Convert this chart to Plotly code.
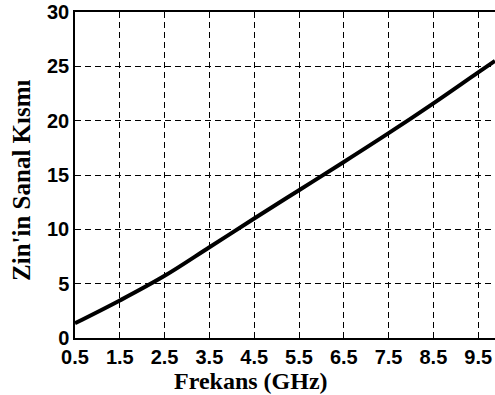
import plotly.graph_objects as go

freq = [0.5, 1.5, 2.5, 3.5, 4.5, 5.5, 6.5, 7.5, 8.5, 9.5, 9.875]
zin_imag = [1.35, 3.45, 5.72, 8.35, 11.0, 13.6, 16.2, 18.85, 21.6, 24.45, 25.5]
x_ticks = [0.5, 1.5, 2.5, 3.5, 4.5, 5.5, 6.5, 7.5, 8.5, 9.5]
y_ticks = [0, 5, 10, 15, 20, 25, 30]
x_title = "Frekans (GHz)"
y_title = "Zin'in Sanal Kısmı"

fig = go.Figure()
fig.add_trace(go.Scatter(x=freq, y=zin_imag, mode="lines",
                         line=dict(color="black", width=4, shape="spline"),
                         showlegend=False, hoverinfo="skip"))

tick_font = dict(family="Liberation Sans, Arial", size=20, color="black", weight="bold")
title_font = dict(family="Liberation Serif, Times New Roman", size=24, color="black", weight="bold")

fig.update_layout(
    width=495, height=395,
    margin=dict(l=75, r=0, t=12, b=57, autoexpand=False),
    paper_bgcolor="white", plot_bgcolor="white",
    xaxis=dict(range=[0.5, 9.875], tickvals=x_ticks, ticktext=[str(v) for v in x_ticks],
               showgrid=True, gridcolor="black", gridwidth=1, griddash="6px,4px",
               showline=True, linecolor="black", linewidth=1.5, mirror=True,
               ticks="", tickfont=tick_font, zeroline=False, automargin=False,
               ticklabeloverflow="allow"),
    yaxis=dict(range=[0, 30], tickvals=y_ticks,
               showgrid=True, gridcolor="black", gridwidth=1, griddash="6px,4px",
               showline=True, linecolor="black", linewidth=1.5, mirror=False,
               ticks="", tickfont=tick_font, zeroline=False, automargin=False,
               ticklabeloverflow="allow"),
    annotations=[
        dict(text=x_title, xref="paper", yref="paper", x=0.42, y=-0.132,
             xanchor="center", yanchor="middle", showarrow=False, font=title_font),
        dict(text=y_title, xref="paper", yref="paper", x=-0.126, y=0.485,
             xanchor="center", yanchor="middle", showarrow=False, textangle=-90,
             font=dict(family="Liberation Serif, Times New Roman", size=25,
                       color="black", weight="bold")),
    ],
)

fig.write_html("out.html", config={"displayModeBar": False},
               post_script="document.body.style.margin='0';document.body.style.padding='0';")
